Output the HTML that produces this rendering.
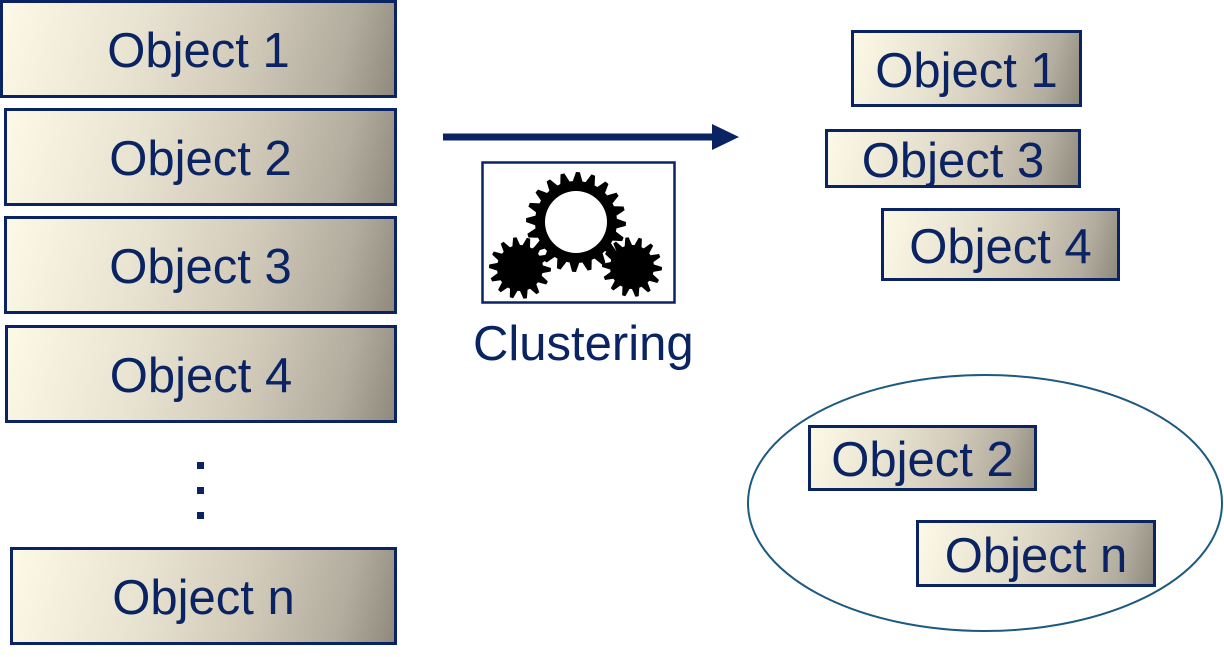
<!DOCTYPE html>
<html><head><meta charset="utf-8"><style>
body{margin:0;width:1224px;height:657px;background:#fff;position:relative;overflow:hidden;font-family:"Liberation Sans",Arial,sans-serif;}
.b{position:absolute;box-sizing:border-box;border:3px solid #0a2463;background:linear-gradient(105deg,#fdf9e7 0%,#e8e2d0 35%,#d4ccbb 60%,#b3ad9f 85%,#8f8a7d 100%);color:#0a2463;font-size:49px;display:flex;align-items:center;justify-content:center;white-space:nowrap;padding-top:4px;}
.d{position:absolute;left:197px;width:7px;height:7px;background:#0a2463;}
</style></head><body>
<div class="b" style="left:0;top:0;width:397px;height:98px;">Object 1</div>
<div class="b" style="left:4px;top:108px;width:393px;height:98px;">Object 2</div>
<div class="b" style="left:4px;top:216px;width:393px;height:98px;">Object 3</div>
<div class="b" style="left:5px;top:325px;width:392px;height:98px;">Object 4</div>
<div class="b" style="left:10px;top:547px;width:387px;height:98px;">Object n</div>
<div class="d" style="top:462px"></div><div class="d" style="top:487px"></div><div class="d" style="top:512px"></div>

<svg style="position:absolute;left:0;top:0" width="1224" height="657">
<line x1="443" y1="137" x2="716" y2="137" stroke="#0a2463" stroke-width="7"/>
<polygon points="712,124 739,137 712,150" fill="#0a2463"/>
<rect x="482.5" y="162.5" width="192" height="140" fill="#fff" stroke="#0a2463" stroke-width="2.5"/>
<g id="gears"></g>
<ellipse cx="985" cy="503" rx="237" ry="128" fill="none" stroke="#1d5a80" stroke-width="2"/>
<text x="473" y="360" font-size="49" fill="#0a2463" font-family="Liberation Sans, Arial, sans-serif">Clustering</text>
</svg>
<div class="b" style="left:851px;top:30px;width:231px;height:77px;">Object 1</div>
<div class="b" style="left:825px;top:129px;width:256px;height:59px;">Object 3</div>
<div class="b" style="left:881px;top:208px;width:239px;height:73px;">Object 4</div>
<div class="b" style="left:808px;top:425px;width:229px;height:66px;">Object 2</div>
<div class="b" style="left:916px;top:520px;width:240px;height:67px;">Object n</div>
<script>
function gear(cx,cy,ro,ri,n,hole){
 var p=[];for(var i=0;i<n*4;i++){var a=i*Math.PI*2/(n*4);var r=(i%4<2)?ro:ri;p.push((cx+r*Math.cos(a)).toFixed(1)+","+(cy+r*Math.sin(a)).toFixed(1));}
 var s='<polygon points="'+p.join(" ")+'" fill="#000"/>';
 if(hole)s+='<circle cx="'+cx+'" cy="'+cy+'" r="'+hole+'" fill="#fff"/>';
 return s;}
document.getElementById("gears").innerHTML=gear(576,222,50,41,20,31)+gear(520,268,31,23,14,0)+gear(632,267,30,22,14,0);
</script>
</body></html>
